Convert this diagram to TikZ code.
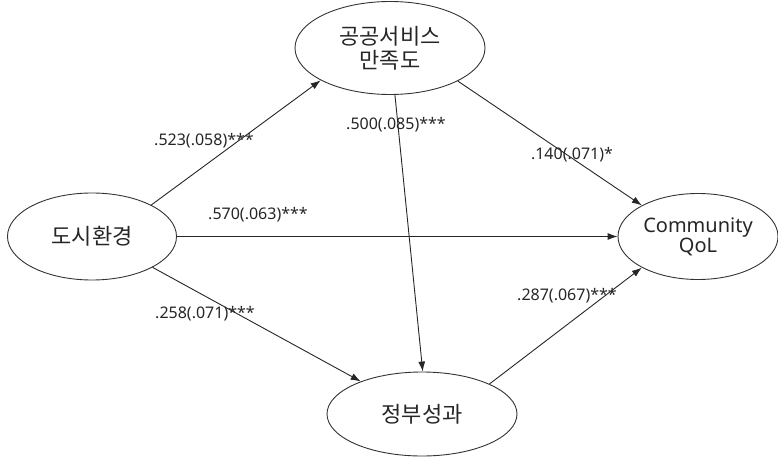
\documentclass[tikz,border=0pt]{standalone}
\usepackage{fontspec}
\setmainfont{Noto Sans}
\newfontfamily\kr{Noto Sans CJK KR}
\usetikzlibrary{arrows.meta,shapes.geometric}
\begin{document}
\begin{tikzpicture}[x=1pt,y=-1pt,
  latent/.style={ellipse,draw=black!80,line width=0.9pt,inner sep=0pt,
    align=center,text=black!85,font=\kr\fontsize{22}{24}\selectfont},
  path/.style={draw=black!85,line width=0.9pt,-{Latex[length=10pt,width=7pt]}},
  coef/.style={inner sep=0pt,text=black!85,font=\fontsize{16}{18}\selectfont}]
\useasboundingbox (0,0) rectangle (778,457);
\node[latent,minimum width=169pt,minimum height=87pt] (env) at (92,236.5) {도시환경};
\node[latent,minimum width=190pt,minimum height=93pt] (svc) at (390,48) {공공서비스\\만족도};
\node[latent,minimum width=160pt,minimum height=86pt,font=\fontsize{20}{23}\selectfont] (qol) at (698,236.5) {Community\\[-3pt]QoL};
\node[latent,minimum width=190pt,minimum height=84pt] (gov) at (422,414) {정부성과};
\draw[path] (env.28) -- (svc.205.5);
\draw[path] (env.east) -- (qol.west);
\draw[path] (env.333) -- (gov.152);
\draw[path] (svc.276) -- (gov.89);
\draw[path] (svc.334) -- (qol.151);
\draw[path] (gov.24) -- (qol.209.7);
\node[coef] (c1) at (204,141) {.523(.058)***};
\node[coef] (c2) at (396,125) {.500(.085)***};
\node[coef] (c3) at (572,155) {.140(.071)*};
\node[coef] (c4) at (258,215) {.570(.063)***};
\node[coef] (c5) at (205,314) {.258(.071)***};
\node[coef] (c6) at (567,296) {.287(.067)***};
\end{tikzpicture}
\end{document}
